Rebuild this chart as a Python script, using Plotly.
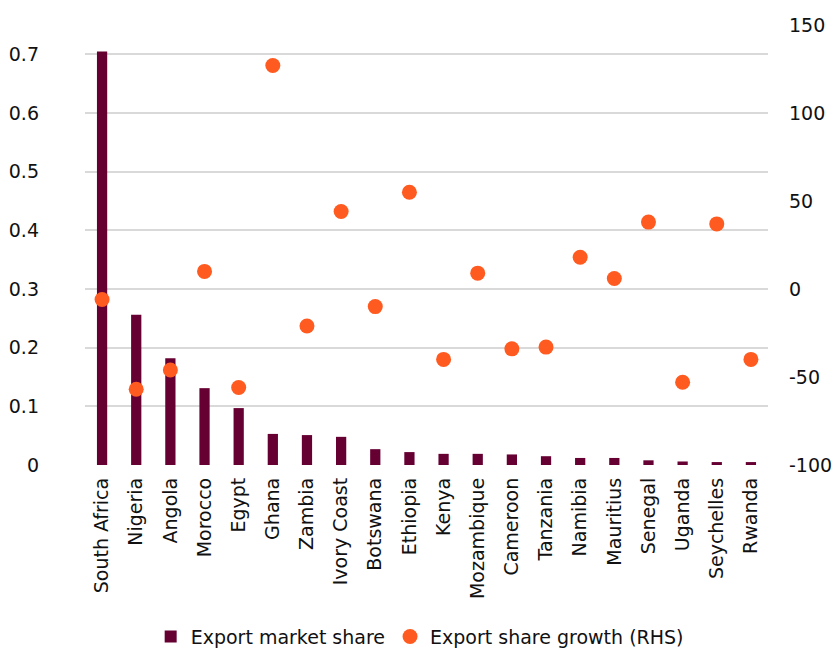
import plotly.graph_objects as go

countries = ["South Africa", "Nigeria", "Angola", "Morocco", "Egypt", "Ghana", "Zambia",
             "Ivory Coast", "Botswana", "Ethiopia", "Kenya", "Mozambique", "Cameroon",
             "Tanzania", "Namibia", "Mauritius", "Senegal", "Uganda", "Seychelles", "Rwanda"]
market_share = [0.705, 0.256, 0.182, 0.131, 0.097, 0.053, 0.051, 0.048, 0.027, 0.022,
                0.019, 0.019, 0.018, 0.015, 0.012, 0.012, 0.008, 0.006, 0.005, 0.005]
share_growth = [-6, -57, -46, 10, -56, 127, -21, 44, -10, 55,
                -40, 9, -34, -33, 18, 6, 38, -53, 37, -40]

left_ticks = [0, 0.1, 0.2, 0.3, 0.4, 0.5, 0.6, 0.7]
left_labels = ["0", "0.1", "0.2", "0.3", "0.4", "0.5", "0.6", "0.7"]
right_ticks = [-100, -50, 0, 50, 100, 150]
right_labels = ["-100", "-50", "0", "50", "100", "150"]

FONT = "DejaVu Sans"
fig = go.Figure()
fig.add_trace(go.Bar(x=countries, y=market_share, name="Export market share",
                     marker=dict(color="#660033", line=dict(width=0)), width=0.3))
fig.add_trace(go.Scatter(x=countries, y=share_growth, name="Export share growth (RHS)",
                         mode="markers", yaxis="y2",
                         marker=dict(color="#FF5A1F", size=15, line=dict(width=0))))

fig.update_layout(
    width=835, height=648,
    margin=dict(l=85, r=67, t=25, b=183, autoexpand=False),
    plot_bgcolor="white", paper_bgcolor="white",
    font=dict(family=FONT, size=19, color="#111111"),
    showlegend=True,
    legend=dict(orientation="h", x=0.49, xanchor="center", y=-0.39, yanchor="middle",
                font=dict(size=19), itemwidth=30, tracegroupgap=0),
    xaxis=dict(tickangle=-90, showgrid=False, showline=False, ticks="",
               range=[-0.5, 19.5], tickfont=dict(size=19), automargin=False,
               ticklabelstandoff=8),
    yaxis=dict(range=[0, 0.75], tickvals=left_ticks, ticktext=left_labels,
               showgrid=True, gridcolor="#d9d9d9", gridwidth=1.5, zeroline=False,
               ticks="", ticklabelstandoff=45, tickfont=dict(size=19), automargin=False),
    yaxis2=dict(range=[-100, 150], tickvals=right_ticks, ticktext=right_labels,
                overlaying="y", side="right",
                showgrid=False, zeroline=False, ticks="", ticklabelstandoff=20,
                tickfont=dict(size=19), automargin=False),
)

fig.write_html("out.html")
